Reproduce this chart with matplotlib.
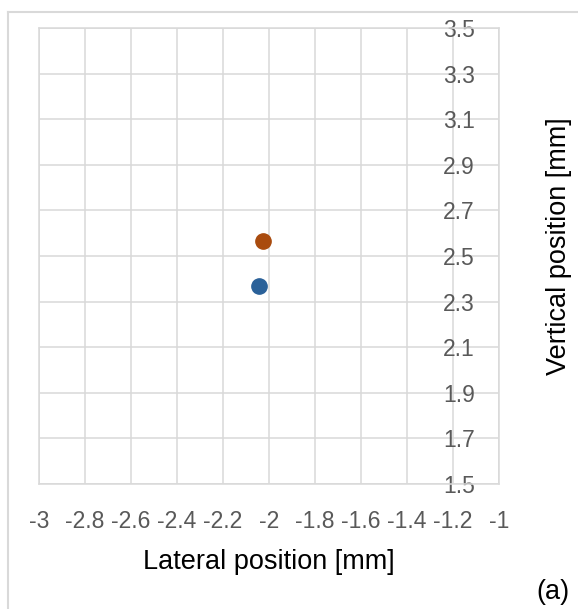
import matplotlib
matplotlib.use("Agg")
from matplotlib import pyplot as plt
from matplotlib.lines import Line2D
import numpy as np

plt.rcParams['font.family'] = ['Liberation Sans', 'DejaVu Sans']

# data
lateral = [-2.043, -2.026]
vertical = [2.368, 2.566]
point_colors = ['#2A6199', '#A94B0E']

x_ticks = np.round(np.arange(-3.0, -0.99, 0.2), 1)
y_ticks = np.round(np.arange(1.5, 3.51, 0.2), 1)
x_labels = ['-3', '-2.8', '-2.6', '-2.4', '-2.2', '-2', '-1.8', '-1.6', '-1.4', '-1.2', '-1']
y_labels = ['1.5', '1.7', '1.9', '2.1', '2.3', '2.5', '2.7', '2.9', '3.1', '3.3', '3.5']

W, H = 578, 609
grid_col = '#D9D9D9'
tick_col = '#595959'

fig = plt.figure(figsize=(W / 100, H / 100), dpi=100)
ax = fig.add_axes([39 / W, (H - 484) / H, (499 - 39) / W, (484 - 28) / H])

# chart area border (only top and left are visible in the crop)
fig.add_artist(Line2D([8 / W, 1.0], [1 - 12 / H, 1 - 12 / H], color=grid_col, lw=1.5))
fig.add_artist(Line2D([8 / W, 8 / W], [0.0, 1 - 12 / H], color=grid_col, lw=1.5))

for i in range(len(lateral)):
    ax.plot(lateral[i], vertical[i], 'o', color=point_colors[i], markersize=11, zorder=3)

ax.set_xlim(-3, -1)
ax.set_ylim(1.5, 3.5)
ax.set_xticks(x_ticks)
ax.set_xticklabels(x_labels)
ax.set_yticks(y_ticks)
ax.set_yticklabels(y_labels)
ax.grid(True, color=grid_col, lw=1.1)
ax.set_axisbelow(True)
for s in ax.spines.values():
    s.set_color(grid_col)
    s.set_linewidth(1.1)

ax.yaxis.tick_right()
ax.tick_params(axis='y', length=0, pad=-17.3, labelsize=16.5, labelcolor=tick_col)
for lab in ax.get_yticklabels():
    lab.set_horizontalalignment('right')
ax.tick_params(axis='x', length=0, pad=19, labelsize=16.5, labelcolor=tick_col)

fig.text(269 / W, 1 - 562 / H, 'Lateral position [mm]', ha='center', va='center', fontsize=19.5, color='black')
fig.text(559 / W, 1 - 246 / H, 'Vertical position [mm]', ha='center', va='center', rotation=90,
         fontsize=19.5, color='black')
fig.text(553 / W, 1 - 592 / H, '(a)', ha='center', va='center', fontsize=19.5, color='black')

fig.savefig('out.png', dpi=100)
